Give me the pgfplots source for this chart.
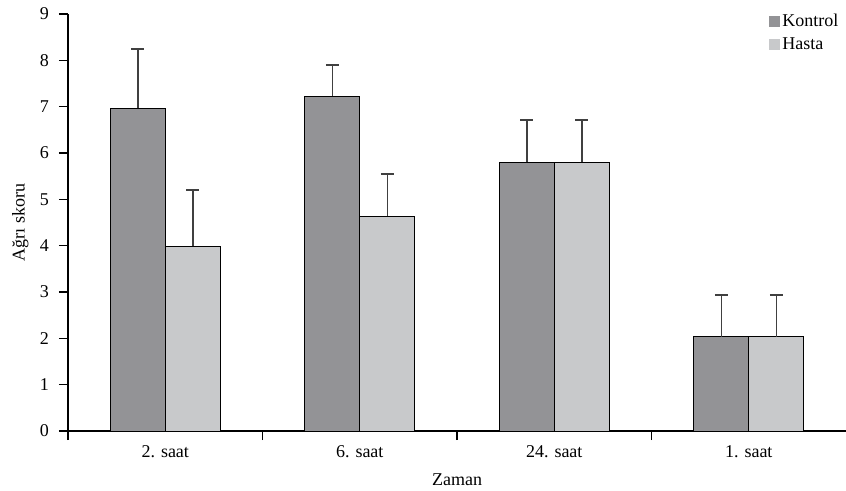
\documentclass[border=0pt]{standalone}
\usepackage{fontspec}
\setmainfont{Liberation Serif}
\usepackage{pgfplots}
\pgfplotsset{compat=1.18}
\definecolor{darkbar}{HTML}{939396}
\definecolor{lightbar}{HTML}{C8C9CB}
\definecolor{errc}{HTML}{404040}
\begin{document}
\fontsize{18}{21}\selectfont
\begin{tikzpicture}
\useasboundingbox (-68pt,-59pt) rectangle (778pt,431pt);
\begin{axis}[
  at={(0pt,0pt)}, anchor=south west,
  scale only axis, width=778pt, height=417pt,
  ybar=0pt, bar width=55pt,
  xmin=-0.5, xmax=3.5, ymin=0, ymax=9,
  axis x line=bottom, axis y line=left,
  axis line style={-, line width=1.4pt},
  xtick={0,1,2,3},
  xticklabels={2. saat,6. saat,24. saat,1. saat},
  major x tick style={draw=none},
  minor xtick={-0.5,0.5,1.5,2.5},
  minor x tick style={black, line width=1.4pt},
  minor tick length=9pt,
  ytick={0,...,9},
  y tick style={black, line width=1.4pt},
  major tick length=9pt,
  tick align=outside,
  /pgf/number format/assume math mode=true,
  tick label style={font=\fontsize{18}{21}\selectfont},
  label style={font=\fontsize{18}{21}\selectfont},
  yticklabel style={xshift=-4pt},
  xticklabel style={yshift=1pt},
  xlabel={Zaman}, ylabel={Ağrı skoru},
  xlabel style={yshift=-4pt},
  ylabel style={yshift=-1pt},
  legend style={at={(0.993,1.005)}, anchor=north east, draw=none, fill=none,
    font=\fontsize{18}{21}\selectfont, row sep=4pt,
    legend cell align=left, inner xsep=0pt, inner ysep=0pt,
    /tikz/every node/.append style={inner xsep=2pt}},
  legend image code/.code={\fill[#1, draw=none] (0pt,-5.5pt) rectangle (11pt,5.5pt);},
  error bars/y dir=plus, error bars/y explicit,
  error bars/error bar style={errc, line width=1.5pt},
  error bars/error mark options={rotate=90, mark size=6.5pt, errc, line width=1.5pt},
]
\addplot[fill=darkbar, draw=black, line width=0.9pt] coordinates {
  (0,6.97) +- (0,1.27)
  (1,7.23) +- (0,0.67)
  (2,5.80) +- (0,0.91)
  (3,2.03) +- (0,0.91)
};
\addplot[fill=lightbar, draw=black, line width=0.9pt] coordinates {
  (0,3.99) +- (0,1.21)
  (1,4.64) +- (0,0.91)
  (2,5.80) +- (0,0.91)
  (3,2.03) +- (0,0.91)
};
\legend{Kontrol,Hasta}
\end{axis}
\end{tikzpicture}
\end{document}
